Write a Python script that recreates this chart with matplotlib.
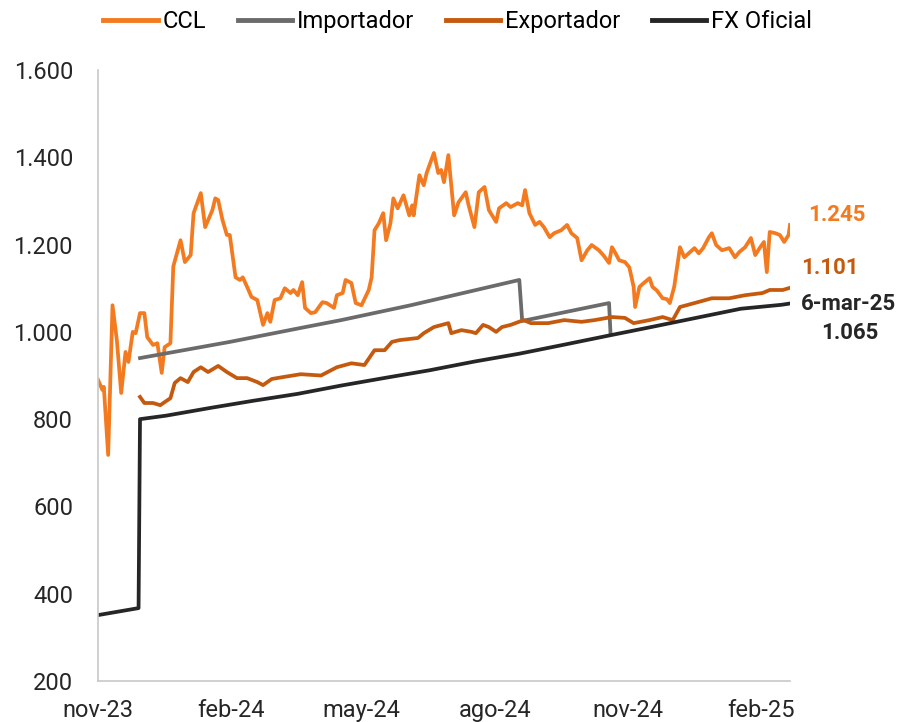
import pandas as pd
import matplotlib
matplotlib.use("Agg")
import matplotlib.pyplot as plt
from matplotlib.ticker import FuncFormatter

# datos
ccl_fechas = ["2023-11-14", "2023-11-17", "2023-11-18", "2023-11-21", "2023-11-24", "2023-11-27",
              "2023-11-30", "2023-12-03", "2023-12-05", "2023-12-08", "2023-12-10", "2023-12-13",
              "2023-12-16", "2023-12-18", "2023-12-22", "2023-12-25", "2023-12-28", "2023-12-30",
              "2024-01-03", "2024-01-05", "2024-01-10", "2024-01-13", "2024-01-17", "2024-01-19",
              "2024-01-24", "2024-01-27", "2024-02-01", "2024-02-03", "2024-02-05", "2024-02-08",
              "2024-02-11", "2024-02-13", "2024-02-17", "2024-02-20", "2024-02-22", "2024-02-25",
              "2024-02-28", "2024-03-03", "2024-03-07", "2024-03-10", "2024-03-12", "2024-03-15",
              "2024-03-19", "2024-03-22", "2024-03-26", "2024-03-28", "2024-03-31", "2024-04-03",
              "2024-04-05", "2024-04-09", "2024-04-12", "2024-04-17", "2024-04-20", "2024-04-25",
              "2024-04-27", "2024-05-01", "2024-05-03", "2024-05-07", "2024-05-10", "2024-05-14",
              "2024-05-19", "2024-05-21", "2024-05-23", "2024-05-26", "2024-05-29", "2024-05-31",
              "2024-06-03", "2024-06-05", "2024-06-08", "2024-06-12", "2024-06-16", "2024-06-18",
              "2024-06-19", "2024-06-23", "2024-06-26", "2024-06-28", "2024-07-03", "2024-07-06",
              "2024-07-08", "2024-07-10", "2024-07-13", "2024-07-17", "2024-07-20", "2024-07-25",
              "2024-07-27", "2024-07-31", "2024-08-03", "2024-08-07", "2024-08-10", "2024-08-15",
              "2024-08-17", "2024-08-22", "2024-08-25", "2024-08-30", "2024-09-02", "2024-09-04",
              "2024-09-07", "2024-09-11", "2024-09-14", "2024-09-17", "2024-09-21", "2024-09-24",
              "2024-09-29", "2024-10-03", "2024-10-06", "2024-10-10", "2024-10-13", "2024-10-17",
              "2024-10-20", "2024-10-25", "2024-10-28", "2024-11-01", "2024-11-03", "2024-11-05",
              "2024-11-08", "2024-11-12", "2024-11-15", "2024-11-18", "2024-11-19", "2024-11-22",
              "2024-11-25", "2024-11-29", "2024-12-01", "2024-12-04", "2024-12-08", "2024-12-11",
              "2024-12-13", "2024-12-16", "2024-12-18", "2024-12-20", "2024-12-23", "2024-12-26",
              "2024-12-30", "2025-01-02", "2025-01-05", "2025-01-09", "2025-01-11", "2025-01-14",
              "2025-01-18", "2025-01-23", "2025-01-27", "2025-01-30", "2025-02-03", "2025-02-07",
              "2025-02-10", "2025-02-13", "2025-02-16", "2025-02-18", "2025-02-20", "2025-02-24",
              "2025-02-27", "2025-03-02", "2025-03-05", "2025-03-06"]
ccl = [890, 867, 874, 718, 1061, 981,
       860, 954, 931, 1000, 997, 1043,
       1043, 988, 970, 974, 906, 965,
       974, 1150, 1210, 1160, 1176, 1272,
       1318, 1240, 1279, 1306, 1302, 1256,
       1222, 1222, 1125, 1119, 1125, 1103,
       1080, 1073, 1016, 1043, 1023, 1073,
       1077, 1100, 1089, 1096, 1084, 1114,
       1055, 1043, 1045, 1068, 1066, 1055,
       1084, 1089, 1119, 1112, 1066, 1061,
       1096, 1125, 1233, 1249, 1272, 1210,
       1249, 1306, 1283, 1313, 1267, 1290,
       1267, 1359, 1336, 1364, 1410, 1364,
       1371, 1343, 1405, 1267, 1297, 1320,
       1290, 1240, 1320, 1332, 1279, 1252,
       1283, 1295, 1286, 1295, 1290, 1325,
       1272, 1245, 1252, 1240, 1217, 1226,
       1233, 1245, 1226, 1215, 1164, 1187,
       1199, 1187, 1176, 1158, 1194, 1183,
       1164, 1160, 1148, 1103, 1057, 1103,
       1112, 1123, 1103, 1095, 1077, 1075,
       1066, 1103, 1148, 1194, 1171, 1180,
       1192, 1180, 1192, 1217, 1226, 1199,
       1187, 1192, 1171, 1183, 1194, 1215,
       1176, 1192, 1206, 1137, 1229, 1226,
       1222, 1206, 1222, 1245]

exp_fechas = ["2023-12-13", "2023-12-16", "2023-12-22", "2023-12-27", "2023-12-30", "2024-01-03",
              "2024-01-06", "2024-01-10", "2024-01-15", "2024-01-19", "2024-01-24", "2024-01-29",
              "2024-02-05", "2024-02-11", "2024-02-18", "2024-02-25", "2024-03-03", "2024-03-07",
              "2024-03-13", "2024-03-20", "2024-04-02", "2024-04-16", "2024-04-27", "2024-05-07",
              "2024-05-16", "2024-05-23", "2024-05-30", "2024-06-04", "2024-06-09", "2024-06-22",
              "2024-06-26", "2024-07-03", "2024-07-13", "2024-07-15", "2024-07-22", "2024-07-29",
              "2024-08-01", "2024-08-06", "2024-08-10", "2024-08-15", "2024-08-19", "2024-08-25",
              "2024-09-03", "2024-09-08", "2024-09-20", "2024-10-01", "2024-10-13", "2024-10-22",
              "2024-11-03", "2024-11-12", "2024-11-18", "2024-11-29", "2024-12-08", "2024-12-15",
              "2024-12-20", "2024-12-30", "2025-01-11", "2025-01-23", "2025-02-03", "2025-02-15",
              "2025-02-20", "2025-03-01", "2025-03-06"]
exportador = [851, 837, 837, 832, 839, 848,
              883, 894, 885, 908, 919, 908,
              922, 908, 894, 894, 885, 878,
              892, 896, 903, 900, 919, 928,
              924, 958, 958, 977, 981, 986,
              997, 1011, 1020, 997, 1004, 1000,
              997, 1016, 1011, 1000, 1011, 1016,
              1027, 1020, 1020, 1027, 1023, 1027,
              1034, 1032, 1020, 1027, 1034, 1027,
              1057, 1066, 1077, 1077, 1084, 1089,
              1096, 1096, 1101]

imp_fechas = ["2023-12-13", "2024-02-13", "2024-04-02", "2024-04-30", "2024-06-17", "2024-08-31",
              "2024-09-02", "2024-11-01", "2024-11-02"]
importador = [940, 977, 1009, 1027, 1061, 1119,
              1025, 1066, 997]

of_fechas = ["2023-11-14", "2023-12-12", "2023-12-13", "2023-12-31", "2024-01-31", "2024-02-29",
             "2024-03-31", "2024-04-30", "2024-05-31", "2024-06-30", "2024-07-31", "2024-08-31",
             "2024-09-30", "2024-10-31", "2024-11-30", "2024-12-31", "2025-01-31", "2025-02-28",
             "2025-03-06"]
oficial = [351, 367, 800, 808, 826, 842,
           858, 877, 895, 912, 932, 950,
           970, 991, 1011, 1032, 1053, 1062,
           1065]

tick_fechas = ["2023-11-14", "2024-02-14", "2024-05-14", "2024-08-14", "2024-11-14", "2025-02-14"]
tick_labels = ["nov-23", "feb-24", "may-24", "ago-24", "nov-24", "feb-25"]

c_ccl = "#F47A20"
c_imp = "#6B6B6B"
c_exp = "#C55A0E"
c_of = "#262626"

plt.rcParams["font.family"] = ["Roboto", "DejaVu Sans"]

fig = plt.figure(figsize=(9.01, 7.22), dpi=100)
ax = fig.add_axes([0.1088, 0.0568, 0.7680, 0.8462])

ax.plot(pd.to_datetime(ccl_fechas), ccl, color=c_ccl, lw=2.7, label="CCL")
ax.plot(pd.to_datetime(imp_fechas), importador, color=c_imp, lw=2.7, label="Importador")
ax.plot(pd.to_datetime(exp_fechas), exportador, color=c_exp, lw=2.7, label="Exportador")
ax.plot(pd.to_datetime(of_fechas), oficial, color=c_of, lw=2.7, label="FX Oficial")

ax.set_xlim(pd.Timestamp(ccl_fechas[0]), pd.Timestamp(ccl_fechas[-1]))
ax.set_ylim(200, 1600)
ax.set_yticks(range(200, 1601, 200))
ax.yaxis.set_major_formatter(FuncFormatter(lambda v, p: f"{int(v):,}".replace(",", ".")))
ax.set_xticks(pd.to_datetime(tick_fechas))
ax.set_xticklabels(tick_labels)

for s in ["top", "right"]:
    ax.spines[s].set_visible(False)
for s in ["left", "bottom"]:
    ax.spines[s].set_color("#c8c8c8")
    ax.spines[s].set_linewidth(1.2)
ax.tick_params(axis="both", length=0, labelsize=17, colors="#262626")
ax.tick_params(axis="y", pad=18)
ax.tick_params(axis="x", pad=13)

# etiquetas finales
last = pd.Timestamp(ccl_fechas[-1])
ax.annotate(f"{ccl[-1]:,}".replace(",", "."), (last, ccl[-1]), xytext=(13, 7),
            textcoords="offset points", color=c_ccl, fontsize=16, fontweight="bold", va="center")
ax.annotate(f"{exportador[-1]:,}".replace(",", "."), (last, exportador[-1]), xytext=(8, 14.5),
            textcoords="offset points", color=c_exp, fontsize=16, fontweight="bold", va="center")
ax.annotate("6-mar-25", (last, oficial[-1]), xytext=(8, 0),
            textcoords="offset points", color=c_of, fontsize=16, fontweight="bold", va="center")
ax.annotate(f"{oficial[-1]:,}".replace(",", "."), (last, oficial[-1]), xytext=(43, -21),
            textcoords="offset points", color=c_of, fontsize=16, fontweight="bold",
            va="center", ha="center")

leg = fig.legend(loc="center", bbox_to_anchor=(0.508, 0.970), ncol=4, frameon=False,
                 fontsize=17, handlelength=2.3, handletextpad=0.2, columnspacing=1.35)
for h in leg.get_lines():
    h.set_linewidth(3.5)

fig.savefig("out.png", dpi=100)
